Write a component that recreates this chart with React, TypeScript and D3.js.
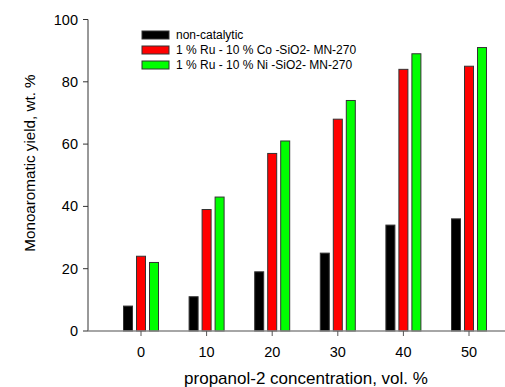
import React from "react";
import * as d3 from "d3";

const categories = [0, 10, 20, 30, 40, 50];
const nonCatalytic = [8, 11, 19, 25, 34, 36];
const coCatalyst = [24, 39, 57, 68, 84, 85];
const niCatalyst = [22, 43, 61, 74, 89, 91];
const seriesNames = [
  "non-catalytic",
  "1 % Ru - 10 % Co -SiO2- MN-270",
  "1 % Ru - 10 % Ni -SiO2- MN-270",
];
const seriesColors = ["#000000", "#ff0000", "#00ff00"];
const yTicks = [0, 20, 40, 60, 80, 100];

export default function App() {
  const W = 505, H = 387;
  const x = d3.scaleLinear().domain([0, 50]).range([141, 469]);
  const y = d3.scaleLinear().domain([0, 100]).range([331, 19.5]);
  const series = [nonCatalytic, coCatalyst, niCatalyst];
  const offsets = [-13, 0, 13];
  const bw = 9;
  const font = "Arial, 'Liberation Sans', sans-serif";
  return (
    <svg width={W} height={H} style={{ position: "absolute", left: 0, top: 0 }} fontFamily={font}>
      <rect width={W} height={H} fill="#fff" />
      {series.map((vals, si) =>
        vals.map((v, i) => (
          <rect
            key={si + "-" + i}
            x={x(categories[i]) + offsets[si] - bw / 2}
            y={y(v)}
            width={bw}
            height={y(0) - y(v)}
            fill={seriesColors[si]}
            stroke="#333"
            strokeWidth={1}
          />
        ))
      )}
      {/* y axis */}
      <line x1={88} x2={88} y1={y(100)} y2={y(0)} stroke="#333" strokeWidth={1} />
      {yTicks.map((t) => (
        <g key={t}>
          <line x1={83} x2={88} y1={y(t)} y2={y(t)} stroke="#333" />
          <text x={78} y={y(t)} dy="0.35em" textAnchor="end" fontSize={14.5} fill="#000">
            {t}
          </text>
        </g>
      ))}
      {/* x axis */}
      <line x1={88} x2={505} y1={y(0)} y2={y(0)} stroke="#888" strokeWidth={1.5} />
      {categories.map((c) => (
        <g key={c}>
          <line x1={x(c)} x2={x(c)} y1={y(0)} y2={y(0) + 5} stroke="#555" />
          <text x={x(c)} y={352} dy="0.35em" textAnchor="middle" fontSize={14.5} fill="#000">
            {c}
          </text>
        </g>
      ))}
      <text x={306} y={378} dy="0.35em" textAnchor="middle" fontSize={17} fill="#000">
        propanol-2 concentration, vol. %
      </text>
      <text
        transform={`translate(30,163) rotate(-90)`}
        dy="0.35em"
        textAnchor="middle"
        fontSize={15.2}
        fill="#000"
      >
        Monoaromatic yield, wt. %
      </text>
      {/* legend */}
      {seriesNames.map((n, i) => (
        <g key={n}>
          <rect x={142} y={31 + i * 15} width={27} height={8} fill={seriesColors[i]} stroke="#333" />
          <text x={176} y={35 + i * 15} dy="0.35em" fontSize={12} fill="#000">
            {n}
          </text>
        </g>
      ))}
    </svg>
  );
}
